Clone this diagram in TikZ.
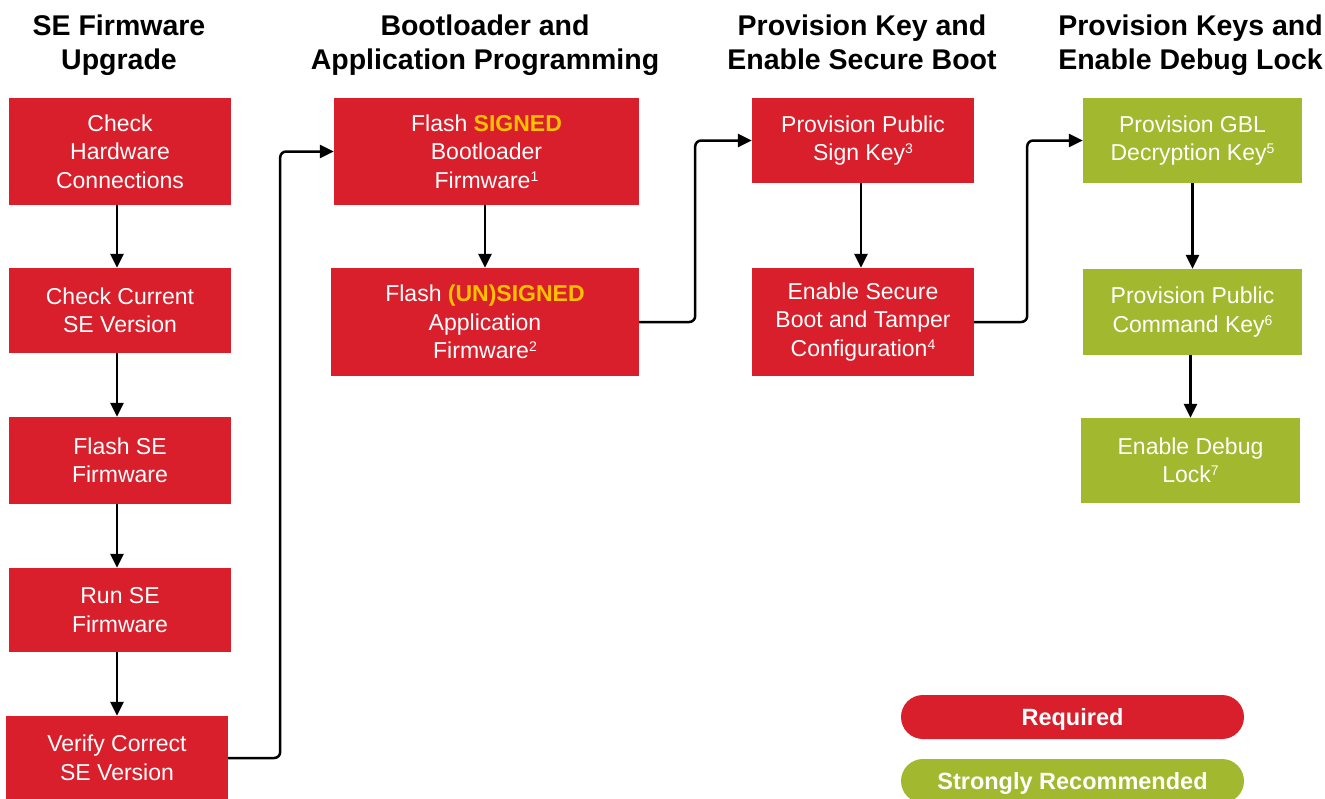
\documentclass[tikz,border=0pt]{standalone}
\usepackage{fontspec}
\setmainfont{Liberation Sans}
\usetikzlibrary{arrows.meta}
\definecolor{reqred}{RGB}{217,31,43}
\definecolor{recgreen}{RGB}{162,184,46}
\definecolor{signgold}{RGB}{255,192,0}
\newcommand{\goldword}[1]{{\bfseries\color{signgold}#1}}
\newcommand{\fnmark}[1]{\raisebox{7pt}{\fontsize{14}{14}\selectfont#1}}

\begin{document}
\begin{tikzpicture}[x=1pt,y=-1pt,
  stepbox/.style={rectangle, fill=reqred, text=white, align=center, inner sep=0pt,
    font=\fontsize{23}{28.5}\selectfont},
  optbox/.style={stepbox, fill=recgreen},
  colhead/.style={anchor=north, align=center, inner sep=0pt,
    font=\fontsize{28.5}{34}\selectfont\bfseries},
  legendpill/.style={rectangle, rounded corners=22pt, minimum width=343pt, minimum height=44pt,
    inner sep=0pt, text=white, text depth=0pt, font=\fontsize{23.5}{28}\selectfont\bfseries},
  flow/.style={-{Triangle[length=14pt,width=13pt]}, line width=2.5pt, rounded corners=6pt}]

\useasboundingbox (0,0) rectangle (1325,798);

% column headings
\node[colhead] (h1) at (119,14.5) {SE Firmware\\Upgrade};
\node[colhead] (h2) at (485,14.5) {Bootloader and\\Application Programming};
\node[colhead] (h3) at (862,14.5) {Provision Key and\\Enable Secure Boot};
\node[colhead] (h4) at (1190.5,14.5) {Provision Keys and\\Enable Debug Lock};

% SE firmware upgrade
\node[stepbox, minimum width=222pt, minimum height=107pt] (chk) at (120,151.5) {Check\\Hardware\\Connections};
\node[stepbox, minimum width=222pt, minimum height=85pt] (cur) at (120,310.5) {Check Current\\SE Version};
\node[stepbox, minimum width=222pt, minimum height=87pt] (fse) at (120,460.5) {Flash SE\\Firmware};
\node[stepbox, minimum width=222pt, minimum height=84pt] (run) at (120,610) {Run SE\\Firmware};
\node[stepbox, minimum width=222pt, minimum height=84pt] (ver) at (117,758) {Verify Correct\\SE Version};

% bootloader and application
\node[stepbox, minimum width=305pt, minimum height=107pt] (boot) at (486.5,151.5) {Flash \goldword{SIGNED}\\Bootloader\\Firmware\fnmark{1}};
\node[stepbox, minimum width=308pt, minimum height=108pt] (app) at (485,322) {Flash \goldword{(UN)SIGNED}\\Application\\Firmware\fnmark{2}};

% secure boot
\node[stepbox, minimum width=222pt, minimum height=85pt] (sign) at (863,140.5) {Provision Public\\Sign Key\fnmark{3}};
\node[stepbox, minimum width=222pt, minimum height=108pt] (sec) at (863,322) {Enable Secure\\Boot and Tamper\\Configuration\fnmark{4}};

% debug lock
\node[optbox, minimum width=219pt, minimum height=85pt] (gbl) at (1192.5,140.5) {Provision GBL\\Decryption Key\fnmark{5}};
\node[optbox, minimum width=219pt, minimum height=86pt] (cmd) at (1192.5,312) {Provision Public\\Command Key\fnmark{6}};
\node[optbox, minimum width=219pt, minimum height=85pt] (dbg) at (1190.5,460.5) {Enable Debug\\Lock\fnmark{7}};

% legend
\node[legendpill, fill=reqred] (req) at (1072.5,717) {Required};
\node[legendpill, fill=recgreen] (rec) at (1072.5,781) {Strongly Recommended};

% arrows down the columns
\draw[flow] ([xshift=-3pt]chk.south) -- ([xshift=-3pt]cur.north);
\draw[flow] ([xshift=-3pt]cur.south) -- ([xshift=-3pt]fse.north);
\draw[flow] ([xshift=-3pt]fse.south) -- ([xshift=-3pt]run.north);
\draw[flow] ([xshift=-3pt]run.south) -- (ver.north);
\draw[flow] (app.north |- boot.south) -- (app.north);
\draw[flow] ([xshift=-2pt]sign.south) -- ([xshift=-2pt]sec.north);
\draw[flow] (gbl.south) -- (cmd.north);
\draw[flow] (dbg.north |- cmd.south) -- (dbg.north);

% arrows between the columns
\draw[flow] (ver.east) -- ([xshift=52pt]ver.east) |- (boot.west);
\draw[flow] (app.east) -- ([xshift=56pt]app.east) |- (sign.west);
\draw[flow] (sec.east) -- ([xshift=53pt]sec.east) |- (gbl.west);

\end{tikzpicture}
\end{document}
